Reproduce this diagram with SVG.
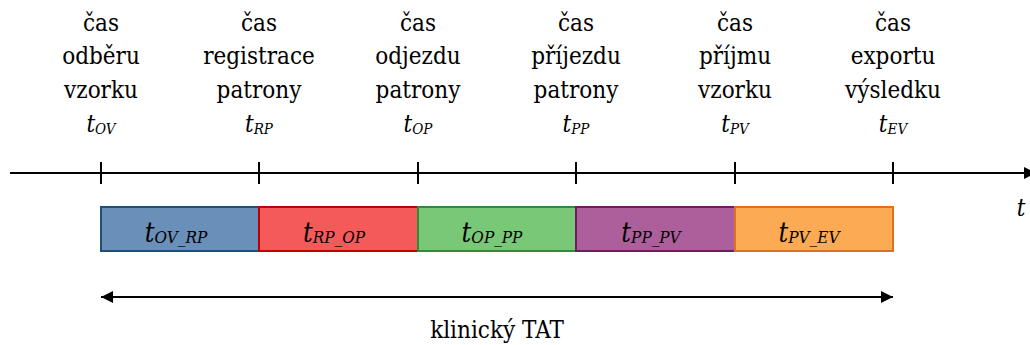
<svg xmlns="http://www.w3.org/2000/svg" width="1030" height="345" viewBox="0 0 1030 345">
  <defs>
    <marker id="arr" viewBox="0 0 10 10" refX="10" refY="5" markerWidth="6" markerHeight="6" orient="auto-start-reverse" markerUnits="strokeWidth">
      <path d="M0,0 L10,5 L0,10 Z" fill="#000"/>
    </marker>
    <style>
      text { font-family: 'DejaVu Serif Condensed', 'DejaVu Serif', serif; font-stretch: condensed; }
      .lbl { font-size: 24px; fill: #000; text-anchor: middle; }
      .it { font-style: italic; }
      .sub { font-size: 15px; font-style: italic; }
      .box-t { font-size: 27px; font-style: italic; fill: #000; text-anchor: middle; }
      .box-t .s { font-size: 17px; }
      .axis { stroke: #000; stroke-width: 2; fill: none; }
      .seg { stroke-width: 2; }
    </style>
  </defs>

  <!-- time axis -->
  <g id="axis">
    <line class="axis" x1="10" y1="173" x2="1036" y2="173" marker-end="url(#arr)"/>
    <line class="axis" x1="101" y1="162" x2="101" y2="184"/>
    <line class="axis" x1="259" y1="162" x2="259" y2="184"/>
    <line class="axis" x1="418" y1="162" x2="418" y2="184"/>
    <line class="axis" x1="576" y1="162" x2="576" y2="184"/>
    <line class="axis" x1="735" y1="162" x2="735" y2="184"/>
    <line class="axis" x1="893" y1="162" x2="893" y2="184"/>
    <text class="lbl it" x="1021" y="216">t</text>
  </g>

  <!-- time point labels -->
  <g id="t-ov">
    <text class="lbl" x="101" y="31">čas</text>
    <text class="lbl" x="101" y="64">odběru</text>
    <text class="lbl" x="101" y="98">vzorku</text>
    <text class="lbl it" x="101" y="132">t<tspan class="sub" dy="2">OV</tspan></text>
  </g>
  <g id="t-rp">
    <text class="lbl" x="259" y="31">čas</text>
    <text class="lbl" x="259" y="64">registrace</text>
    <text class="lbl" x="259" y="98">patrony</text>
    <text class="lbl it" x="259" y="132">t<tspan class="sub" dy="2">RP</tspan></text>
  </g>
  <g id="t-op">
    <text class="lbl" x="418" y="31">čas</text>
    <text class="lbl" x="418" y="64">odjezdu</text>
    <text class="lbl" x="418" y="98">patrony</text>
    <text class="lbl it" x="418" y="132">t<tspan class="sub" dy="2">OP</tspan></text>
  </g>
  <g id="t-pp">
    <text class="lbl" x="576" y="31">čas</text>
    <text class="lbl" x="576" y="64">příjezdu</text>
    <text class="lbl" x="576" y="98">patrony</text>
    <text class="lbl it" x="576" y="132">t<tspan class="sub" dy="2">PP</tspan></text>
  </g>
  <g id="t-pv">
    <text class="lbl" x="735" y="31">čas</text>
    <text class="lbl" x="735" y="64">příjmu</text>
    <text class="lbl" x="735" y="98">vzorku</text>
    <text class="lbl it" x="735" y="132">t<tspan class="sub" dy="2">PV</tspan></text>
  </g>
  <g id="t-ev">
    <text class="lbl" x="893" y="31">čas</text>
    <text class="lbl" x="893" y="64">exportu</text>
    <text class="lbl" x="893" y="98">výsledku</text>
    <text class="lbl it" x="893" y="132">t<tspan class="sub" dy="2">EV</tspan></text>
  </g>

  <!-- interval segments -->
  <g id="seg-ov-rp">
    <rect class="seg" x="101" y="207" width="158" height="44" fill="#6a8fb8" stroke="#1f4e79"/>
    <text class="box-t" x="176" y="242">t<tspan class="s" dy="1">OV_RP</tspan></text>
  </g>
  <g id="seg-rp-op">
    <rect class="seg" x="259" y="207" width="159" height="44" fill="#f55a5a" stroke="#c00000"/>
    <text class="box-t" x="334" y="242">t<tspan class="s" dy="1">RP_OP</tspan></text>
  </g>
  <g id="seg-op-pp">
    <rect class="seg" x="418" y="207" width="158" height="44" fill="#78c878" stroke="#2e8b3a"/>
    <text class="box-t" x="492" y="242">t<tspan class="s" dy="1">OP_PP</tspan></text>
  </g>
  <g id="seg-pp-pv">
    <rect class="seg" x="576" y="207" width="159" height="44" fill="#ad5f9c" stroke="#6e1a64"/>
    <text class="box-t" x="651" y="242">t<tspan class="s" dy="1">PP_PV</tspan></text>
  </g>
  <g id="seg-pv-ev">
    <rect class="seg" x="735" y="207" width="158" height="44" fill="#fdaa55" stroke="#e07020"/>
    <text class="box-t" x="809" y="242">t<tspan class="s" dy="1">PV_EV</tspan></text>
  </g>

  <!-- total span -->
  <g id="connectors">
    <line x1="101" y1="297" x2="893" y2="297" stroke="#000" stroke-width="2" marker-start="url(#arr)" marker-end="url(#arr)"/>
  </g>
  <g id="tat">
    <text class="lbl" x="497" y="338">klinický TAT</text>
  </g>
</svg>
